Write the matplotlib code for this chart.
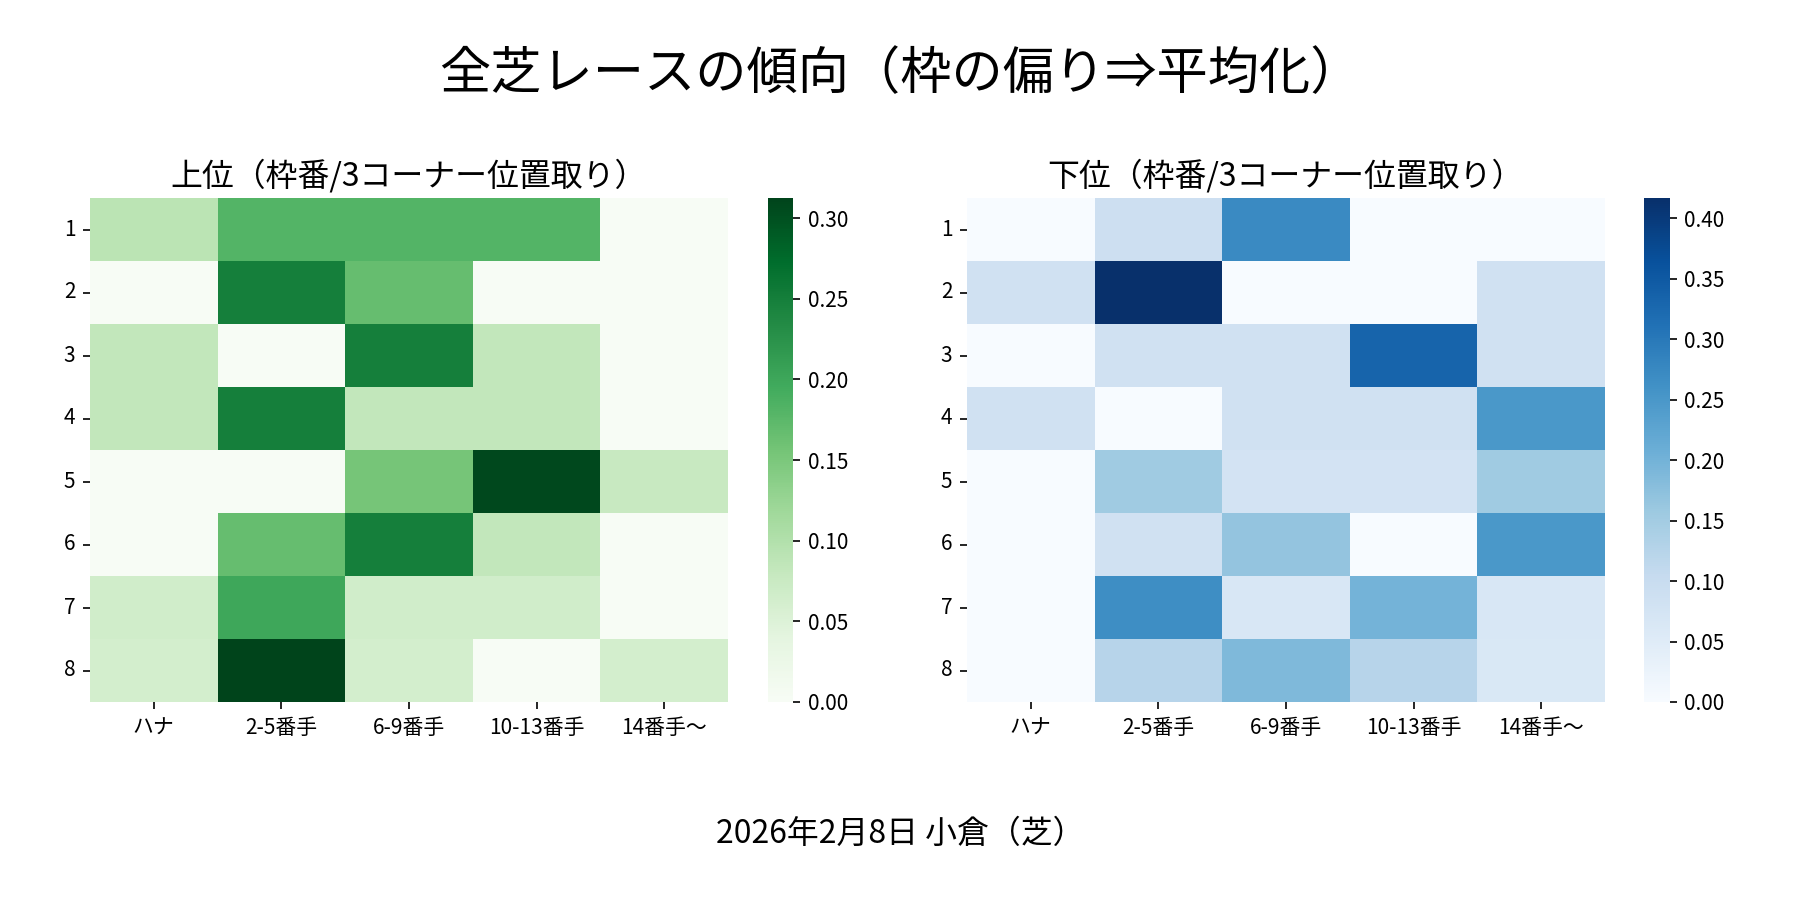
import matplotlib
matplotlib.use('Agg')
import matplotlib.pyplot as plt
import numpy as np
import pandas as pd
import seaborn as sns

plt.rcParams['font.family'] = ['Noto Sans CJK JP', 'DejaVu Sans']

frames = ['1', '2', '3', '4', '5', '6', '7', '8']
positions = ['ハナ', '2-5番手', '6-9番手', '10-13番手', '14番手〜']

# horses per frame (denominator for each row)
frame_totals = [11, 12, 12, 12, 13, 12, 15, 16]

# counts per frame / 3rd-corner position
top_counts = [
    [1, 2, 2, 2, 0],
    [0, 3, 2, 0, 0],
    [1, 0, 3, 1, 0],
    [1, 3, 1, 1, 0],
    [0, 0, 2, 4, 1],
    [0, 2, 3, 1, 0],
    [1, 3, 1, 1, 0],
    [1, 5, 1, 0, 1],
]
bottom_counts = [
    [0, 1, 3, 0, 0],
    [1, 5, 0, 0, 1],
    [0, 1, 1, 4, 1],
    [1, 0, 1, 1, 3],
    [0, 2, 1, 1, 2],
    [0, 1, 2, 0, 3],
    [0, 4, 1, 3, 1],
    [0, 2, 3, 2, 1],
]

totals = np.array(frame_totals, dtype=float)[:, None]
df_top = pd.DataFrame(np.array(top_counts) / totals, index=frames, columns=positions)
df_bot = pd.DataFrame(np.array(bottom_counts) / totals, index=frames, columns=positions)

fig = plt.figure(figsize=(12, 6), dpi=150)

ax_top = fig.add_axes([0.05, 0.22, 0.3544, 0.56])
cax_top = fig.add_axes([0.4267, 0.22, 0.0139, 0.56])
ax_bot = fig.add_axes([0.5372, 0.22, 0.3544, 0.56])
cax_bot = fig.add_axes([0.9133, 0.22, 0.0144, 0.56])

sns.heatmap(df_top, cmap='Greens', ax=ax_top, cbar_ax=cax_top)
ax_top.set_title('上位（枠番/3コーナー位置取り）', fontsize=15.3)

sns.heatmap(df_bot, cmap='Blues', ax=ax_bot, cbar_ax=cax_bot)
ax_bot.set_title('下位（枠番/3コーナー位置取り）', fontsize=15.3)

for ax in (ax_top, ax_bot):
    ax.tick_params(axis='y', rotation=0)
    ax.tick_params(axis='x', rotation=0)
    ax.set_xlabel('')
    ax.set_ylabel('')

fig.text(0.5, 0.917, '全芝レースの傾向（枠の偏り⇒平均化）', ha='center', va='center', fontsize=24.6)
fig.text(0.5, 0.074, '2026年2月8日 小倉（芝）', ha='center', va='center', fontsize=15.3)

fig.savefig('out.png', dpi=150)
